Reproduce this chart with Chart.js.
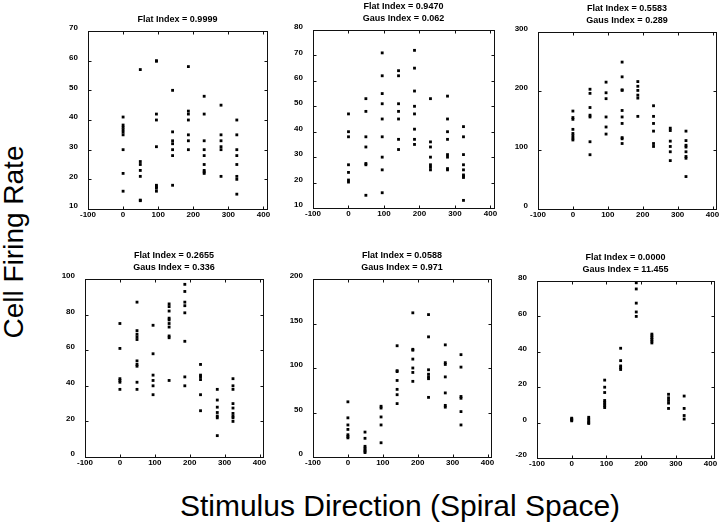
<!DOCTYPE html>
<html><head><meta charset="utf-8">
<script src="https://cdn.jsdelivr.net/npm/chart.js@4/dist/chart.umd.min.js"></script>
<style>
html,body{margin:0;padding:0;background:#fff;}
#wrap{position:relative;width:720px;height:527px;overflow:hidden;background:#fff;}
#wrap canvas{position:absolute;}
.lbl{position:absolute;font-family:"Liberation Sans",Arial,Helvetica,sans-serif;color:#000;white-space:nowrap;line-height:1;}
#ylab{left:14px;top:242px;font-size:28px;transform:translate(-50%,-50%) rotate(-90deg);}
#xlab{left:400px;top:491px;font-size:30px;transform:translateX(-50%);}
</style></head><body>
<div id="wrap">
<div class="lbl" id="ylab">Cell Firing Rate</div>
<div class="lbl" id="xlab">Stimulus Direction (Spiral Space)</div>
</div>
<script>
// Stimulus directions (x positions of the 8 columns)
const directions = [0, 49, 95, 141, 186, 231, 279, 324];
const xTickValues = [-100, 0, 100, 200, 300, 400];

const panel1Titles = ["Flat Index = 0.9999"];
const panel2Titles = ["Flat Index = 0.9470", "Gaus Index = 0.062"];
const panel3Titles = ["Flat Index = 0.5583", "Gaus Index = 0.289"];
const panel4Titles = ["Flat Index = 0.2655", "Gaus Index = 0.336"];
const panel5Titles = ["Flat Index = 0.0588", "Gaus Index = 0.971"];
const panel6Titles = ["Flat Index = 0.0000", "Gaus Index = 11.455"];

const panel1YTicks = [10, 20, 30, 40, 50, 60, 70];
const panel2YTicks = [10, 20, 30, 40, 50, 60, 70, 80];
const panel3YTicks = [0, 100, 200, 300];
const panel4YTicks = [0, 20, 40, 60, 80, 100];
const panel5YTicks = [0, 50, 100, 150, 200];
const panel6YTicks = [-20, 0, 20, 40, 60, 80];

// firing rates per direction column
const panel1Rates = [
  [41, 38.3, 37.5, 36.7, 35.9, 35, 30, 22, 16],
  [57, 26, 25, 23, 21, 13, 12.8],
  [60, 59.8, 42, 40, 31, 18, 17.5, 17, 16],
  [50, 36, 33, 32, 30, 28, 18],
  [58, 43, 42, 40, 35, 33, 30],
  [48, 42, 33, 30, 28, 25, 23, 22.5, 22],
  [45, 35, 33, 31, 30, 21],
  [40, 35, 30, 28, 25, 21, 20, 15]
];
const panel2Rates = [
  [47, 40, 38, 27, 24, 21, 20.2],
  [53, 48, 38, 34, 27.5, 27, 15],
  [71, 62, 55, 51, 45, 38, 30, 25, 16],
  [64, 62, 51, 48, 45, 37, 33],
  [72, 65, 56, 50, 47, 41, 37, 35],
  [53, 36, 34, 30, 27, 26, 25],
  [54, 45, 40, 37, 31, 30, 25.5, 25],
  [42, 38, 31, 27, 25, 23, 22.5, 22, 13]
];
const panel3Rates = [
  [166, 155, 152, 135, 128, 124, 120, 117],
  [203, 196, 172, 159, 156, 114, 92],
  [215, 197, 187, 156, 139, 127],
  [249, 224, 202, 201, 167, 156, 145, 121, 119, 111],
  [216, 208, 201, 193, 188, 157],
  [175, 157, 145, 132, 111, 106],
  [137, 133, 115, 106, 97, 82],
  [132, 116, 108, 105, 97, 89, 86, 55]
];
const panel4Rates = [
  [75, 61, 44, 43, 42, 38],
  [87, 71, 69, 67.5, 66, 54, 52, 51, 42, 38],
  [74, 58, 46, 43, 40, 35],
  [86, 84.5, 82, 78, 77, 75, 73, 68, 67, 43],
  [97, 93, 87, 85, 81, 65, 45, 40],
  [52, 46, 45, 43.5, 35, 26],
  [38, 32, 28, 25, 23, 22, 12],
  [44, 40, 38, 30, 27.5, 24.5, 23, 22, 20]
];
const panel5Rates = [
  [62, 44, 36, 31, 25, 23, 21.5],
  [28, 21, 12, 10, 8, 6.5, 5],
  [57, 55, 45, 36, 16],
  [125, 97, 96, 86, 76, 70, 60],
  [162, 121, 120, 110, 100, 95, 85],
  [160, 135, 98, 93, 90, 88, 67],
  [126, 106, 104, 90, 72, 58, 56],
  [115, 101, 68, 66, 51, 36]
];
const panel6Rates = [
  [2.5, 2, 1.5, 1],
  [3, 2, 1, 0, -0.5],
  [24, 20, 17, 12.5, 11.5, 10.5, 9.5, 8.5],
  [42, 35, 32, 31, 30],
  [79, 75.5, 67.5, 62.5, 60],
  [50, 49, 48, 47, 46, 45],
  [16, 14, 12.5, 11, 8],
  [15, 8, 4, 2]
];

const FONT = '"Liberation Sans", Arial, Helvetica, sans-serif';

const boxPlugin = {
  id: 'boxTicks',
  afterDraw(chart) {
    const {ctx, chartArea: a, scales} = chart;
    const x = scales.x, y = scales.y;
    const L = Math.round(a.left) + 0.5, R = Math.round(a.right) + 0.5;
    const T = Math.round(a.top) + 0.5, B = Math.round(a.bottom) + 0.5;
    const tl = 3;
    ctx.save();
    ctx.strokeStyle = '#111';
    ctx.lineWidth = 1;
    ctx.strokeRect(L, T, R - L, B - T);
    ctx.beginPath();
    x.ticks.forEach(t => {
      const px = Math.round(x.getPixelForValue(t.value)) + 0.5;
      if (px <= L + 1 || px >= R - 1) return;
      ctx.moveTo(px, T); ctx.lineTo(px, T + tl);
      ctx.moveTo(px, B); ctx.lineTo(px, B - tl);
    });
    y.ticks.forEach(t => {
      const py = Math.round(y.getPixelForValue(t.value)) + 0.5;
      if (py <= T + 1 || py >= B - 1) return;
      ctx.moveTo(L, py); ctx.lineTo(L + tl, py);
      ctx.moveTo(R, py); ctx.lineTo(R - tl, py);
    });
    ctx.stroke();
    ctx.restore();
  }
};

function makePanel(area, titles, yTicks, rates) {
  const yAxisW = 40, xAxisH = 16, padR = 8;
  const titleH = 12 * titles.length + 5;
  const cw = area.w + yAxisW + padR;
  const ch = titleH + area.h + xAxisH;
  const c = document.createElement('canvas');
  c.width = cw; c.height = ch;
  c.style.width = cw + 'px'; c.style.height = ch + 'px';
  c.style.left = (area.l - yAxisW) + 'px';
  c.style.top = (area.t - titleH) + 'px';
  document.getElementById('wrap').appendChild(c);

  const pts = [];
  rates.forEach((col, i) => col.forEach(v => pts.push({x: directions[i], y: v})));

  new Chart(c, {
    type: 'scatter',
    data: {datasets: [{
      data: pts,
      pointStyle: 'rect',
      pointRadius: 2,
      pointBorderWidth: 0,
      backgroundColor: '#000',
      borderColor: '#000'
    }]},
    options: {
      responsive: false,
      animation: false,
      devicePixelRatio: 1,
      layout: {padding: {left: 0, right: padR, top: 0, bottom: 0}},
      plugins: {
        legend: {display: false},
        tooltip: {enabled: false},
        title: {
          display: true,
          text: titles,
          fullSize: false,
          color: '#000',
          font: {family: FONT, size: 9, weight: 'bold', lineHeight: '12px'},
          padding: {top: 0, bottom: 5}
        }
      },
      scales: {
        x: {
          type: 'linear',
          min: -100, max: 410,
          afterBuildTicks: s => { s.ticks = xTickValues.map(v => ({value: v})); },
          afterFit: s => { s.height = xAxisH; },
          grid: {display: false, drawTicks: false, tickLength: 0},
          border: {display: false},
          ticks: {color: '#000', font: {family: FONT, size: 8, weight: 'bold'}, padding: 1, maxRotation: 0, autoSkip: false}
        },
        y: {
          type: 'linear',
          min: yTicks[0], max: yTicks[yTicks.length - 1],
          afterBuildTicks: s => { s.ticks = yTicks.map(v => ({value: v})); },
          afterFit: s => { s.width = yAxisW; },
          grid: {display: false, drawTicks: false, tickLength: 0},
          border: {display: false},
          ticks: {color: '#000', font: {family: FONT, size: 8, weight: 'bold'}, padding: 10, labelOffset: -3, autoSkip: false}
        }
      }
    },
    plugins: [boxPlugin]
  });
}

makePanel({l: 88, t: 31, w: 179, h: 178}, panel1Titles, panel1YTicks, panel1Rates);
makePanel({l: 313, t: 30, w: 181, h: 178}, panel2Titles, panel2YTicks, panel2Rates);
makePanel({l: 538, t: 32, w: 178, h: 177}, panel3Titles, panel3YTicks, panel3Rates);
makePanel({l: 85, t: 279, w: 178, h: 178}, panel4Titles, panel4YTicks, panel4Rates);
makePanel({l: 313, t: 279, w: 178, h: 178}, panel5Titles, panel5YTicks, panel5Rates);
makePanel({l: 537, t: 281, w: 177, h: 177}, panel6Titles, panel6YTicks, panel6Rates);
</script>
</body></html>
